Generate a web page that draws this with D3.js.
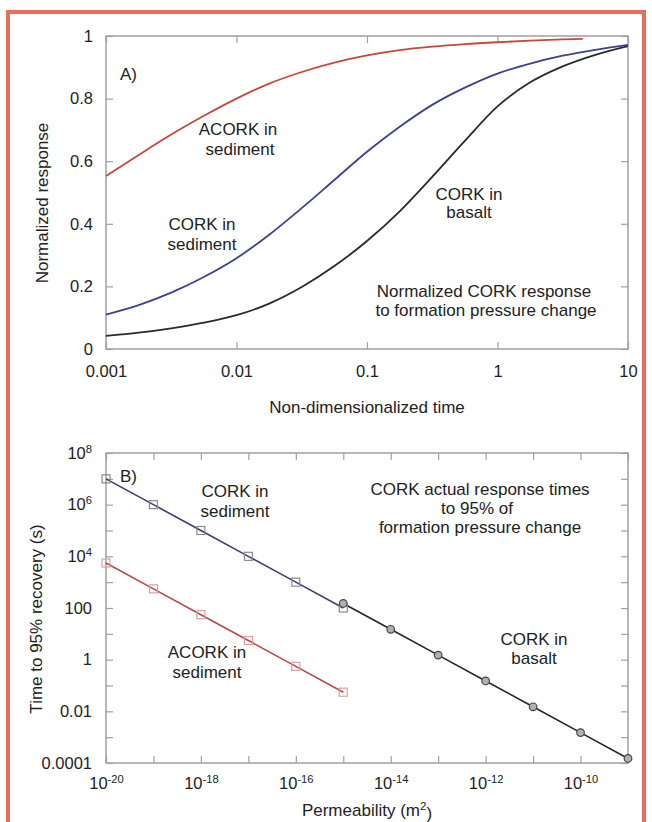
<!DOCTYPE html>
<html><head><meta charset="utf-8">
<script src="https://cdn.jsdelivr.net/npm/d3@7"></script>
<style>
html,body{margin:0;padding:0;background:#fff;}
svg{display:block;}
text{font-family:"Liberation Sans",Arial,Helvetica,sans-serif;fill:#222;}
</style></head><body>
<svg id="chart" width="652" height="822"></svg>
<script>
// ---------- Panel A data ----------
const timeA = [0.001, 0.00178, 0.00316, 0.00562, 0.01, 0.0178, 0.0316, 0.0562, 0.1, 0.178, 0.316, 0.562, 1, 1.78, 3.16, 5.62, 10];
const timeAcorkA = [0.001, 0.00178, 0.00316, 0.00562, 0.01, 0.0178, 0.0316, 0.0562, 0.1, 0.178, 0.316, 0.562, 1, 1.78, 3.16, 4.5];
const acorkSedimentA = [0.553, 0.62, 0.685, 0.745, 0.80, 0.848, 0.885, 0.915, 0.938, 0.955, 0.966, 0.974, 0.98, 0.985, 0.989, 0.991];
const corkSedimentA = [0.11, 0.14, 0.18, 0.23, 0.29, 0.365, 0.45, 0.54, 0.63, 0.71, 0.78, 0.835, 0.88, 0.912, 0.937, 0.956, 0.972];
const corkBasaltA = [0.042, 0.052, 0.066, 0.084, 0.108, 0.145, 0.198, 0.265, 0.345, 0.44, 0.55, 0.665, 0.775, 0.852, 0.903, 0.94, 0.968];
const xTicksA = [0.001, 0.01, 0.1, 1, 10];
const xTickLabelsA = ["0.001", "0.01", "0.1", "1", "10"];
const yTicksA = [0, 0.2, 0.4, 0.6, 0.8, 1];
const yTickLabelsA = ["0", "0.2", "0.4", "0.6", "0.8", "1"];

// ---------- Panel B data ----------
const permSediment = [1e-20, 1e-19, 1e-18, 1e-17, 1e-16, 1e-15];
const corkSedimentTime = [1e7, 1e6, 1e5, 1e4, 1e3, 1e2];
const acorkSedimentTime = [5500, 550, 55, 5.5, 0.55, 0.055];
const permBasalt = [1e-15, 1e-14, 1e-13, 1e-12, 1e-11, 1e-10, 1e-9];
const corkBasaltTime = [150, 15, 1.5, 0.15, 0.015, 0.0015, 0.00015];
const xTicksB = [1e-20, 1e-19, 1e-18, 1e-17, 1e-16, 1e-15, 1e-14, 1e-13, 1e-12, 1e-11, 1e-10, 1e-9];
const xTickLabelsB = ["10^-20", "", "10^-18", "", "10^-16", "", "10^-14", "", "10^-12", "", "10^-10", ""];
const yTicksB = [1e-4, 1e-3, 1e-2, 1e-1, 1, 10, 100, 1e3, 1e4, 1e5, 1e6, 1e7, 1e8];
const yTickLabelsB = ["0.0001", "", "0.01", "", "1", "", "100", "", "10^4", "", "10^6", "", "10^8"];

// ---------- drawing ----------
const svg = d3.select("#chart");
svg.append("rect").attr("x", 8).attr("y", 12).attr("width", 636).attr("height", 900)
  .attr("fill", "none").attr("stroke", "#e8705a").attr("stroke-width", 4);

const TICK = 7, FRAME = "#a0a0a0", FS = 16.5;

function setLabels(g, labels) {
  g.selectAll(".tick text").each(function (d, i) {
    const lab = labels[i];
    const t = d3.select(this);
    t.text(null);
    if (lab.includes("^")) {
      const [b, e] = lab.split("^");
      t.append("tspan").text(b);
      t.append("tspan").attr("dy", "-0.55em").attr("font-size", "0.68em").text(e);
    } else {
      t.text(lab);
    }
  });
}
function style(g) {
  g.attr("font-size", FS).attr("font-family", null);
  g.select(".domain").remove();
  g.selectAll(".tick line").attr("stroke", FRAME).attr("stroke-width", 1.2);
  g.selectAll(".tick text").attr("fill", "#222");
}

function panel(P, x, y, xt, xl, yt, yl, xPad, yPad) {
  const gb = svg.append("g").attr("transform", `translate(0,${P.bottom})`)
    .call(d3.axisBottom(x).tickValues(xt).tickSize(-TICK).tickPadding(xPad).tickFormat(() => ""));
  style(gb); setLabels(gb, xl);
  const gt = svg.append("g").attr("transform", `translate(0,${P.top})`)
    .call(d3.axisTop(x).tickValues(xt).tickSize(-TICK).tickFormat(() => ""));
  style(gt);
  const gl = svg.append("g").attr("transform", `translate(${P.left},0)`)
    .call(d3.axisLeft(y).tickValues(yt).tickSize(-TICK).tickPadding(yPad).tickFormat(() => ""));
  style(gl); setLabels(gl, yl);
  const gr = svg.append("g").attr("transform", `translate(${P.right},0)`)
    .call(d3.axisRight(y).tickValues(yt).tickSize(-TICK).tickFormat(() => ""));
  style(gr);
  svg.append("rect").attr("x", P.left).attr("y", P.top)
    .attr("width", P.right - P.left).attr("height", P.bottom - P.top)
    .attr("fill", "none").attr("stroke", FRAME).attr("stroke-width", 1.5);
}

function label(x, y, str, opts = {}) {
  const t = svg.append("text").attr("x", x).attr("y", y)
    .attr("text-anchor", opts.anchor || "middle").attr("font-size", opts.size || 17);
  t.text(str);
  return t;
}

// ---- Panel A ----
const A = { left: 106, right: 628, top: 36, bottom: 349 };
const xA = d3.scaleLog().domain([0.001, 10]).range([A.left, A.right]);
const yA = d3.scaleLinear().domain([0, 1]).range([A.bottom, A.top]);
panel(A, xA, yA, xTicksA, xTickLabelsA, yTicksA, yTickLabelsA, 16, 13);

const lineA = d3.line().x(d => xA(d[0])).y(d => yA(d[1])).curve(d3.curveMonotoneX);
svg.append("path").datum(d3.zip(timeA, corkBasaltA)).attr("d", lineA)
  .attr("fill", "none").attr("stroke", "#2a2a2a").attr("stroke-width", 1.8);
svg.append("path").datum(d3.zip(timeA, corkSedimentA)).attr("d", lineA)
  .attr("fill", "none").attr("stroke", "#3d4190").attr("stroke-width", 1.8);
svg.append("path").datum(d3.zip(timeAcorkA, acorkSedimentA)).attr("d", lineA)
  .attr("fill", "none").attr("stroke", "#c8473c").attr("stroke-width", 1.8);

label(120, 80, "A)", { anchor: "start" });
label(238, 135, "ACORK in"); label(240, 155, "sediment");
label(202, 230, "CORK in"); label(202, 250, "sediment");
label(469, 200, "CORK in"); label(469, 218, "basalt");
label(484, 297, "Normalized CORK response"); label(486, 316, "to formation pressure change");
label(367, 413, "Non-dimensionalized time");
svg.append("text").attr("transform", "translate(48,203) rotate(-90)")
  .attr("text-anchor", "middle").attr("font-size", 17).text("Normalized response");

// ---- Panel B ----
const B = { left: 106, right: 628, top: 453, bottom: 763 };
const xB = d3.scaleLog().domain([1e-20, 1e-9]).range([B.left, B.right]);
const yB = d3.scaleLog().domain([1e-4, 1e8]).range([B.bottom, B.top]);
panel(B, xB, yB, xTicksB, xTickLabelsB, yTicksB, yTickLabelsB, 14, 14);

const lineB = d3.line().x(d => xB(d[0])).y(d => yB(d[1]));
const sed = d3.zip(permSediment, corkSedimentTime);
const acork = d3.zip(permSediment, acorkSedimentTime);
const bas = d3.zip(permBasalt, corkBasaltTime);
svg.append("path").datum(sed).attr("d", lineB).attr("fill", "none").attr("stroke", "#3a3f6e").attr("stroke-width", 1.6);
svg.append("path").datum(acork).attr("d", lineB).attr("fill", "none").attr("stroke", "#b8484a").attr("stroke-width", 1.6);
svg.append("path").datum(bas).attr("d", lineB).attr("fill", "none").attr("stroke", "#262626").attr("stroke-width", 1.6);

const S = 8;
svg.append("g").selectAll("rect").data(sed).join("rect")
  .attr("x", d => xB(d[0]) - S / 2).attr("y", d => yB(d[1]) - S / 2).attr("width", S).attr("height", S)
  .attr("fill", "none").attr("stroke", "#8a8a8a").attr("stroke-width", 1.2);
svg.append("g").selectAll("rect").data(acork).join("rect")
  .attr("x", d => xB(d[0]) - S / 2).attr("y", d => yB(d[1]) - S / 2).attr("width", S).attr("height", S)
  .attr("fill", "none").attr("stroke", "#d9a0a0").attr("stroke-width", 1.2);
svg.append("g").selectAll("circle").data(bas).join("circle")
  .attr("cx", d => xB(d[0])).attr("cy", d => yB(d[1])).attr("r", 3.8)
  .attr("fill", "#b0b0b0").attr("stroke", "#444").attr("stroke-width", 1.2);

label(120, 482, "B)", { anchor: "start" });
label(235, 497, "CORK in"); label(235, 517, "sediment");
label(207, 658, "ACORK in"); label(207, 678, "sediment");
label(480, 495, "CORK actual response times"); label(477, 514, "to 95% of"); label(480, 533, "formation pressure change");
label(534, 645, "CORK in"); label(534, 664, "basalt");
const pt = svg.append("text").attr("x", 367).attr("y", 816).attr("text-anchor", "middle").attr("font-size", 17);
pt.append("tspan").text("Permeability (m");
pt.append("tspan").attr("dy", "-0.55em").attr("font-size", "0.68em").text("2");
pt.append("tspan").attr("dy", "0.55em").text(")");
svg.append("text").attr("transform", "translate(42,619) rotate(-90)")
  .attr("text-anchor", "middle").attr("font-size", 17).text("Time to 95% recovery (s)");
</script>
</body></html>
